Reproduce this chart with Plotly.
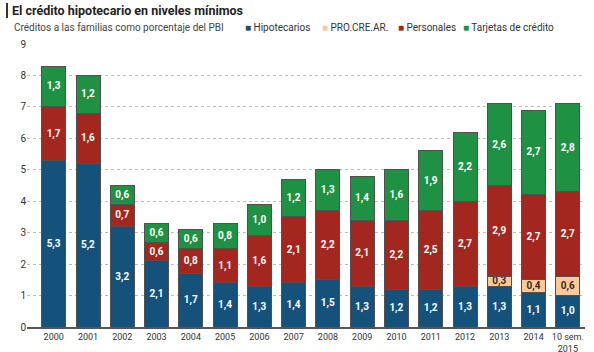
import plotly.graph_objects as go

years = ["2000", "2001", "2002", "2003", "2004", "2005", "2006", "2007", "2008",
         "2009", "2010", "2011", "2012", "2013", "2014", "10 sem.<br>2015"]
hipotecarios = [5.3, 5.2, 3.2, 2.1, 1.7, 1.4, 1.3, 1.4, 1.5, 1.3, 1.2, 1.2, 1.3, 1.3, 1.1, 1.0]
procrear = [None] * 13 + [0.3, 0.4, 0.6]
personales = [1.7, 1.6, 0.7, 0.6, 0.8, 1.1, 1.6, 2.1, 2.2, 2.1, 2.2, 2.5, 2.7, 2.9, 2.7, 2.7]
tarjetas = [1.3, 1.2, 0.6, 0.6, 0.6, 0.8, 1.0, 1.2, 1.3, 1.4, 1.6, 1.9, 2.2, 2.6, 2.7, 2.8]

FONT = "Roboto, Liberation Sans, sans-serif"

series = [
    ("Hipotecarios", hipotecarios, "#14527c", "white"),
    ("PRO.CRE.AR.", procrear, "#f9c99c", "#3a2a1a"),
    ("Personales", personales, "#a3271f", "white"),
    ("Tarjetas de crédito", tarjetas, "#1f9142", "white"),
]
legend_px = [243, 320, 396, 461]

L, R, T, B = 27, 9, 44, 25
PW = 594 - L - R
PH = 352 - T - B


def px_x(px):
    return (px - L) / PW


def px_y(py):
    return (352 - B - py) / PH


fig = go.Figure()
annotations = []
for (name, vals, col, tcol), lx in zip(series, legend_px):
    fig.add_trace(go.Bar(
        x=years, y=vals, name=name,
        marker=dict(color=col, line=dict(color="#505050", width=1)),
        texttemplate="<b>%{y:.1f}</b>", textposition="inside",
        insidetextanchor="middle", textangle=0, constraintext="none",
        textfont=dict(family=FONT, size=10, color=tcol),
    ))
    annotations.append(dict(
        text=f"<span style='color:{col}'>■</span> {name}",
        xref="paper", yref="paper", x=px_x(lx), y=px_y(27),
        xanchor="left", yanchor="middle", showarrow=False,
        font=dict(family=FONT, size=10, color="#333")))

annotations.append(dict(text="Créditos a las familias como porcentaje del PBI",
                        xref="paper", yref="paper", x=px_x(12), y=px_y(27),
                        xanchor="left", yanchor="middle", showarrow=False,
                        font=dict(family=FONT, size=10, color="#444")))

fig.update_layout(
    width=594, height=352,
    barmode="stack", bargap=0.3,
    separators=",.",
    paper_bgcolor="white", plot_bgcolor="white",
    margin=dict(l=L, r=R, t=T, b=B, autoexpand=False),
    font=dict(family=FONT, color="#333"),
    showlegend=False,
    title=dict(text="<b>El crédito hipotecario en niveles mínimos</b>",
               x=12 / 594, xanchor="left", y=1 - 11 / 352, yanchor="middle",
               font=dict(family=FONT, size=12.5, color="#222")),
    annotations=annotations,
    shapes=[dict(type="line", xref="paper", yref="paper",
                 x0=px_x(7), x1=px_x(7), y0=px_y(3), y1=px_y(18),
                 line=dict(color="#333", width=2))],
)
fig.update_xaxes(
    range=[-0.78, 15.5], showline=True, linecolor="#555", linewidth=2,
    tickfont=dict(family=FONT, size=9, color="#333"), ticks="", tickangle=0,
    showgrid=False, ticklabelstandoff=0,
)
fig.update_yaxes(
    range=[0, 9], dtick=1, showgrid=True, gridcolor="#bdbdbd", griddash="dot",
    gridwidth=1, zeroline=False, ticks="",
    tickfont=dict(family=FONT, size=10, color="#333"),
)

fig.write_html("out.html")
